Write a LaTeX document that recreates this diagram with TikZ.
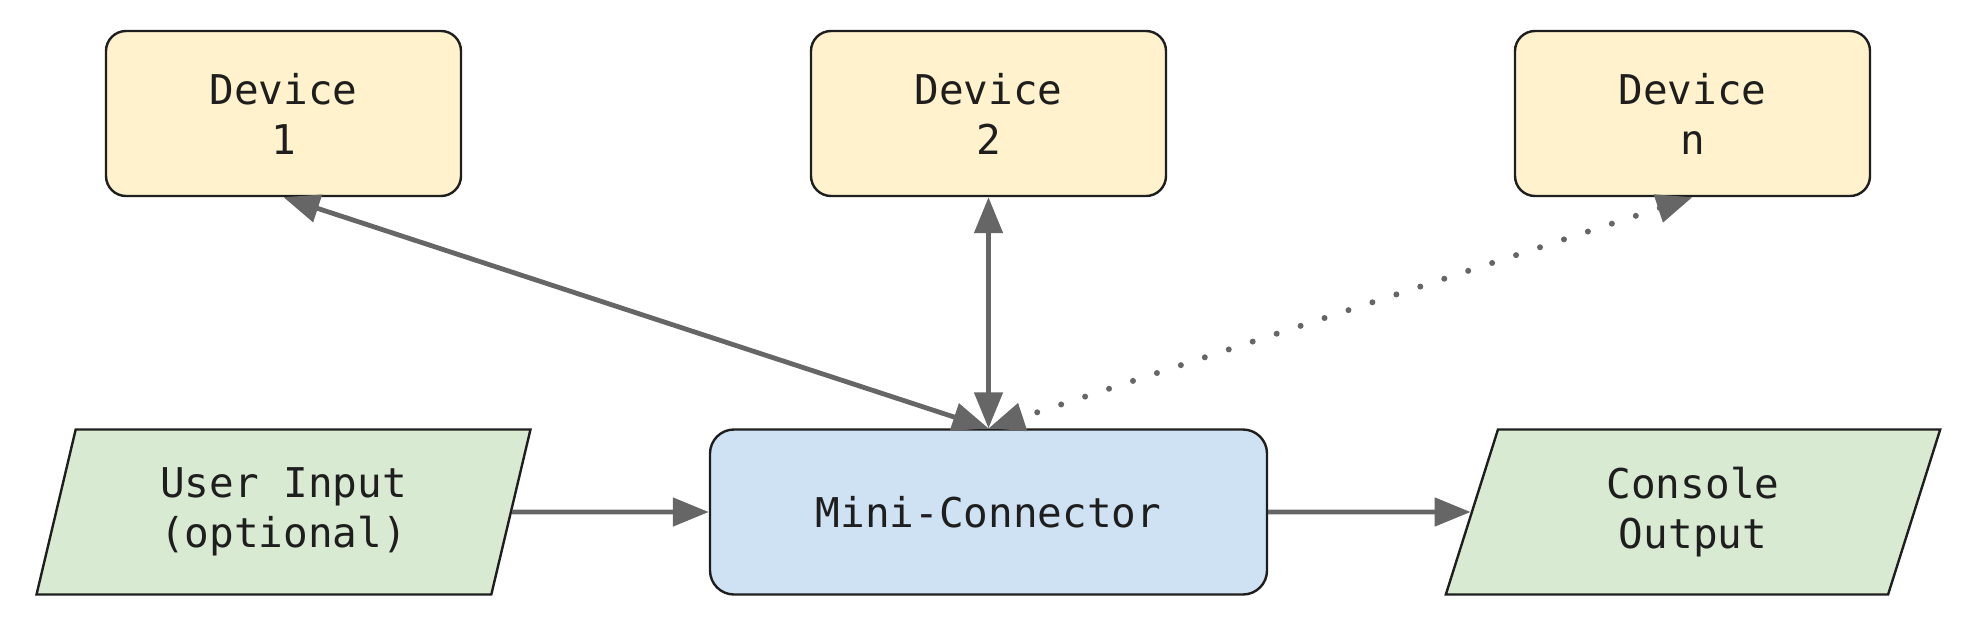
\documentclass[tikz,border=0pt]{standalone}
\usepackage{fontspec}
\setmonofont{DejaVu Sans Mono}
\usetikzlibrary{arrows.meta,shapes.geometric}

\definecolor{devfill}{RGB}{255,242,204}
\definecolor{mcfill}{RGB}{207,226,243}
\definecolor{iofill}{RGB}{217,234,211}
\definecolor{linkgray}{RGB}{102,102,102}
\definecolor{edgeblack}{RGB}{30,30,30}

\newcommand{\boxfont}{\ttfamily\fontsize{20.5pt}{25pt}\selectfont}

\tikzset{every picture/.style={line width=0.75pt}}
\tikzset{
  devbox/.style={draw=edgeblack, line width=1.2pt, fill=devfill, rounded corners=10pt,
    minimum width=177.5pt, minimum height=82.5pt, align=center, font=\boxfont, text=edgeblack},
  mcbox/.style={devbox, fill=mcfill, rounded corners=12pt, minimum width=278.5pt},
  iobox/.style={draw=edgeblack, line width=1.2pt, fill=iofill, trapezium,
    trapezium left angle=76.45, trapezium right angle=103.55, trapezium stretches=true,
    minimum width=247.5pt, minimum height=82.5pt, align=center, font=\boxfont, text=edgeblack},
  link/.style={draw=linkgray, line width=2.4pt},
  dotlink/.style={link, line width=3pt, line cap=round, dash pattern=on 0pt off 12.6pt},
  >={Triangle[length=18pt,width=14pt]}
}

\begin{document}
\begin{tikzpicture}[x=0.5pt,y=0.5pt,yscale=-1,xscale=1]
\useasboundingbox (0,0) rectangle (1968,638); %keep the margins of the diagram

%Shape: Rounded Rect (devices)
\node [devbox] (dev1) at (283.5,113.5) {Device\\1};
\node [devbox] (dev2) at (988.5,113.5) {Device\\2};
\node [devbox] (devn) at (1692.5,113.5) {Device\\n};

%Shape: Rounded Rect (connector)
\node [mcbox] (conn) at (988.5,512) {Mini-Connector};

%Shape: Parallelogram (input / output)
\node [iobox] (usrin) at (283.5,512) {User Input\\(optional)};
\node [iobox] (conout) at (1693,512) {Console\\Output};

%Straight Lines
\draw [link, <->] (dev1.south) -- (conn.north);
\draw [link, <->] (dev2) -- (conn);
\draw [dotlink, <->] (devn.south) -- (conn.north);
\draw [link, ->] (usrin) -- (conn);
\draw [link, ->] (conn) -- (conout);

\end{tikzpicture}
\end{document}
